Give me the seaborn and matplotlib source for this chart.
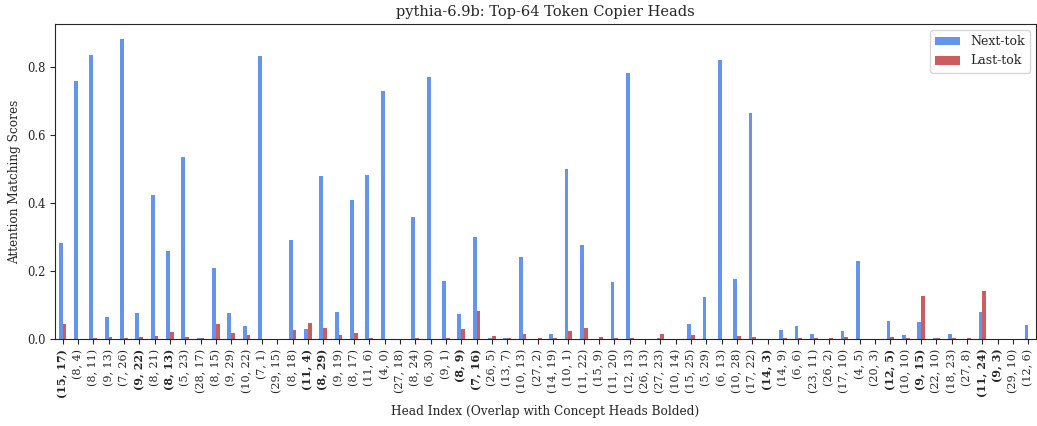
import pandas as pd
import matplotlib.pyplot as plt
import seaborn as sns

# Rótulos das cabeças (camada, cabeça)
heads = [
    "(15, 17)", "(8, 4)", "(8, 11)", "(9, 13)", "(7, 26)", "(9, 22)", "(8, 21)", "(8, 13)",
    "(5, 23)", "(28, 17)", "(8, 15)", "(9, 29)", "(10, 22)", "(7, 1)", "(29, 15)", "(8, 18)",
    "(11, 4)", "(8, 29)", "(9, 19)", "(8, 17)", "(11, 6)", "(4, 0)", "(27, 18)", "(8, 24)",
    "(6, 30)", "(9, 1)", "(8, 9)", "(7, 16)", "(26, 5)", "(13, 7)", "(10, 13)", "(27, 2)",
    "(14, 19)", "(10, 1)", "(11, 22)", "(15, 9)", "(11, 20)", "(12, 13)", "(26, 13)", "(27, 23)",
    "(10, 14)", "(15, 25)", "(5, 29)", "(6, 13)", "(10, 28)", "(17, 22)", "(14, 3)", "(14, 9)",
    "(6, 6)", "(23, 11)", "(26, 2)", "(17, 10)", "(4, 5)", "(20, 3)", "(12, 5)", "(10, 10)",
    "(9, 15)", "(22, 10)", "(18, 23)", "(27, 8)", "(11, 24)", "(9, 3)", "(29, 10)", "(12, 6)",
]

# Cabeças que também são "concept heads" (em negrito)
bold_heads = ["(15, 17)", "(9, 22)", "(8, 13)", "(11, 4)", "(8, 29)", "(8, 9)", "(7, 16)",
              "(14, 3)", "(12, 5)", "(9, 15)", "(11, 24)", "(9, 3)"]

next_tok = [
    0.282, 0.758, 0.835, 0.065, 0.882, 0.077, 0.424, 0.259,
    0.535, 0.002, 0.210, 0.077, 0.038, 0.833, 0.0, 0.290,
    0.028, 0.478, 0.079, 0.409, 0.481, 0.729, 0.0, 0.360,
    0.771, 0.170, 0.073, 0.300, 0.003, 0.002, 0.241, 0.0,
    0.015, 0.499, 0.275, 0.0, 0.168, 0.783, 0.0, 0.002,
    0.0, 0.043, 0.122, 0.820, 0.175, 0.664, 0.0, 0.026,
    0.038, 0.014, 0.0, 0.024, 0.229, 0.0, 0.052, 0.012,
    0.050, 0.002, 0.014, 0.0, 0.078, 0.0, 0.0, 0.041,
]

last_tok = [
    0.044, 0.0, 0.002, 0.005, 0.002, 0.006, 0.009, 0.022,
    0.007, 0.002, 0.044, 0.018, 0.012, 0.0, 0.0, 0.025,
    0.048, 0.031, 0.012, 0.017, 0.004, 0.0, 0.0, 0.002,
    0.0, 0.002, 0.030, 0.083, 0.008, 0.002, 0.014, 0.002,
    0.003, 0.023, 0.032, 0.006, 0.002, 0.004, 0.0, 0.014,
    0.0, 0.011, 0.0, 0.0, 0.010, 0.007, 0.0, 0.002,
    0.004, 0.002, 0.002, 0.006, 0.0, 0.0, 0.005, 0.004,
    0.126, 0.002, 0.003, 0.003, 0.140, 0.0, 0.0, 0.0,
]

df = pd.DataFrame({"head": heads * 2,
                   "score": next_tok + last_tok,
                   "tipo": ["Next-tok"] * len(heads) + ["Last-tok"] * len(heads)})

sns.set_style("ticks")
plt.rcParams["font.family"] = ["DejaVu Serif"]

fig = plt.figure(figsize=(10.37, 4.26), dpi=100)
ax = fig.add_axes([55 / 1037, 1 - 339 / 426, 981 / 1037, 315 / 426])

sns.barplot(data=df, x="head", y="score", hue="tipo", order=heads,
            palette={"Next-tok": "#6495ED", "Last-tok": "#CD5C5C"},
            width=0.5, gap=0, ax=ax, saturation=1, linewidth=0)

ax.set_xlim(-0.5, len(heads) - 0.5)
ax.set_ylim(0, 0.926)
ax.set_title("pythia-6.9b: Top-64 Token Copier Heads", fontsize=10.5)
ax.set_xlabel("Head Index (Overlap with Concept Heads Bolded)", fontsize=8.7, labelpad=5)
ax.set_ylabel("Attention Matching Scores", fontsize=8.7)
ax.tick_params(axis="x", labelrotation=90, labelsize=8)
ax.tick_params(axis="y", labelsize=8.3)
for lbl in ax.get_xticklabels():
    if lbl.get_text() in bold_heads:
        lbl.set_fontweight("bold")
for s in ax.spines.values():
    s.set_visible(True)
ax.legend(loc="upper right", fontsize=9, title=None)

fig.savefig("out.png", dpi=100)
